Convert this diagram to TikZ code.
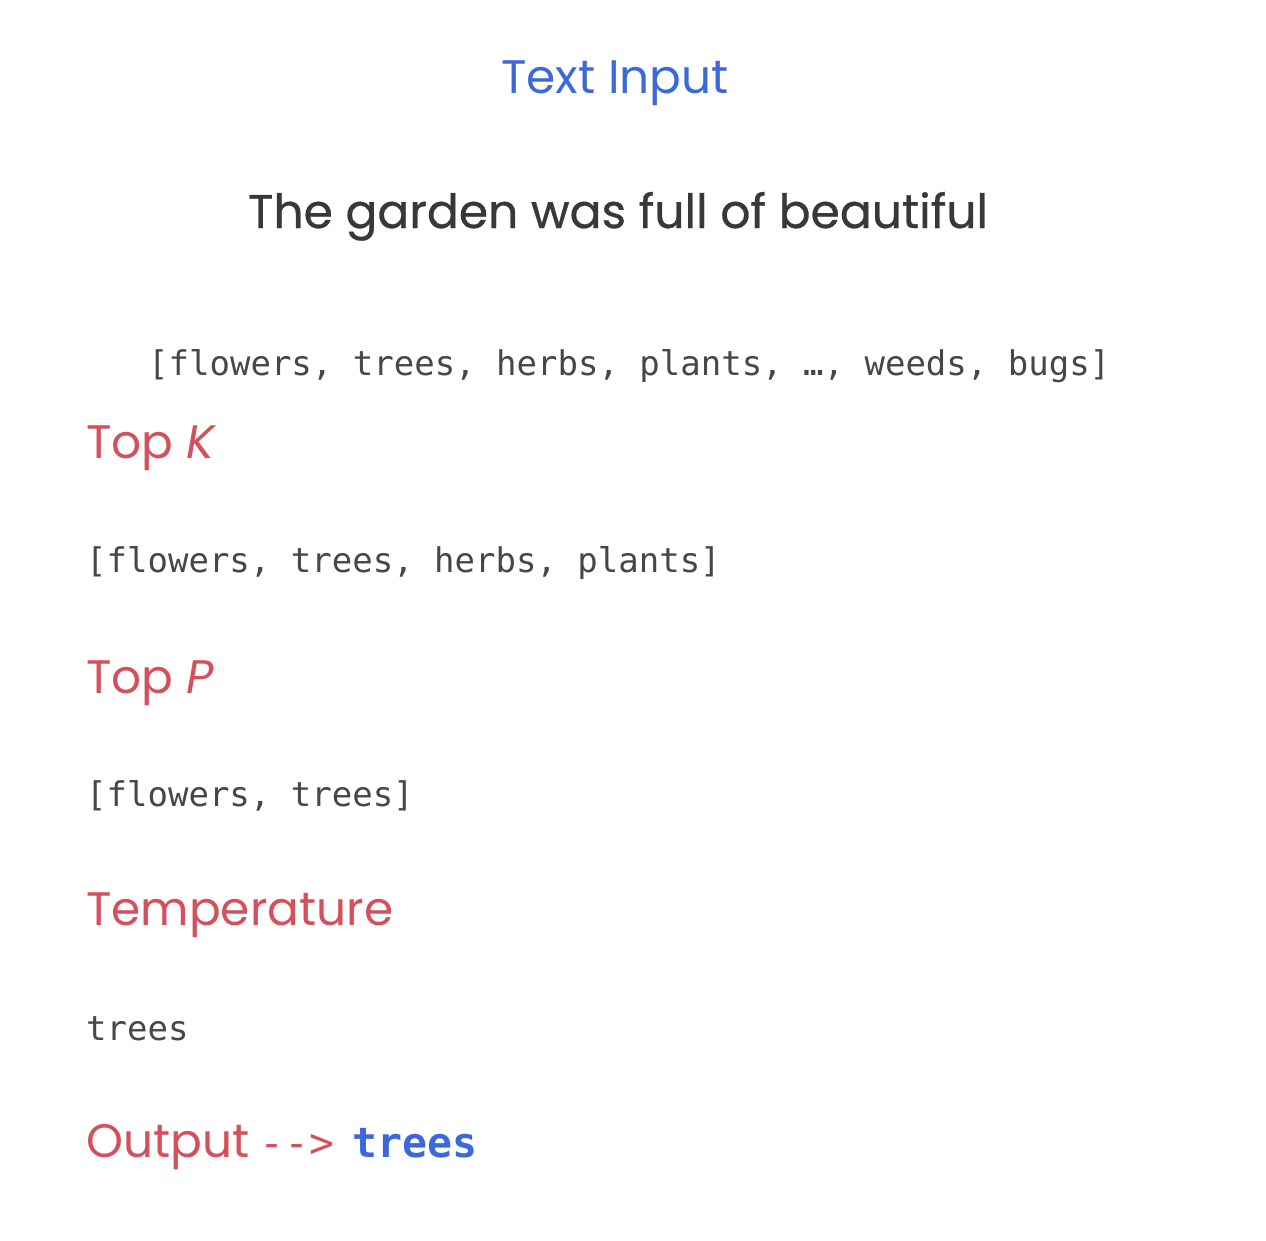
\documentclass[tikz,border=0pt]{standalone}
\usepackage{fontspec}
\setmainfont{Poppins}
\setmonofont{DejaVu Sans Mono}
\newfontfamily\popmed{Poppins}[FakeBold=0.6]
\definecolor{tblue}{HTML}{3D68D8}
\definecolor{tred}{HTML}{D4505C}
\definecolor{tdark}{HTML}{383838}
\definecolor{tmono}{HTML}{474747}
\tikzset{
  title/.style={anchor=base, inner sep=0pt, text=tblue, font=\fontsize{47}{52}\selectfont},
  prompt/.style={anchor=base, inner sep=0pt, text=tdark, font=\popmed\fontsize{47.2}{52}\selectfont},
  head/.style={anchor=base west, inner sep=0pt, text=tred, font=\fontsize{47}{52}\selectfont},
  mono/.style={anchor=base west, inner sep=0pt, text=tmono, font=\ttfamily\fontsize{34}{40}\selectfont},
}
\begin{document}
\begin{tikzpicture}[x=1pt,y=-1pt]
\useasboundingbox (0,0) rectangle (1266,1240);
\fill[white] (0,0) rectangle (1266,1240);
\node[title] (title) at (615,93) {Text Input};
\node[prompt] (prompt) at (618,228) {The garden was full of beautiful};
\node[mono] (all) at (148,375) {[flowers, trees, herbs, plants, …, weeds, bugs]};
\node[head] (topk) at (86,458) {Top \textit{K}};
\node[mono] (klist) at (86,572) {[flowers, trees, herbs, plants]};
\node[head] (topp) at (86,693) {Top \textit{P}};
\node[mono] (plist) at (86,806) {[flowers, trees]};
\node[head] (temp) at (86,925) {Temperature};
\node[mono] (tword) at (86,1040) {trees};
\node[head] (out) at (86,1157) {Output\hspace{10pt}{\ttfamily\fontsize{41.5}{44}\selectfont -{}->\hspace{18pt}\textcolor{tblue}{\bfseries trees}}};
\end{tikzpicture}
\end{document}
